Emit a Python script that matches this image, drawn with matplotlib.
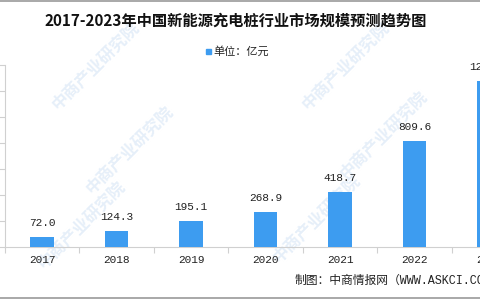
import matplotlib
matplotlib.use("Agg")
import matplotlib.pyplot as plt
import numpy as np

plt.rcParams['font.family'] = ['Noto Sans CJK SC', 'DejaVu Sans']

years = ["2017", "2018", "2019", "2020", "2021", "2022", "2023"]
values = [72.0, 124.3, 195.1, 268.9, 418.7, 809.6, 1272.0]
value_labels = ["72.0", "124.3", "195.1", "268.9", "418.7", "809.6", "1272.0"]

title = "2017-2023年中国新能源充电桩行业市场规模预测趋势图"
legend_text = "单位：亿元"
footer = "制图：中商情报网（WWW.ASKCI.COM）"

bar_color = "#3d9cf0"
mono = ["Liberation Mono", "Noto Sans CJK SC", "DejaVu Sans Mono"]

fig = plt.figure(figsize=(4.8, 3.0), dpi=100)
fig.patch.set_facecolor("white")

# watermark (faint)
wm_color = "#e6eff9"
for (x, y) in [(0.20, 0.78), (0.27, 0.50), (0.17, 0.25), (0.72, 0.78), (0.80, 0.55), (0.66, 0.27)]:
    fig.text(x, y, "中商产业研究院", rotation=45, fontsize=12, color=wm_color,
             ha="center", va="center", fontweight="bold", zorder=0)

ax = fig.add_axes([4.75/480, 1 - 246.7/300, 7*74.5/480, (246.7-64.7)/300])
ax.set_zorder(2)
ax.set_facecolor("none")
x = np.arange(len(years))
ax.bar(x, values, width=0.31, color=bar_color, zorder=3)
ax.set_xlim(-0.5, len(years) - 0.5)
ax.set_ylim(0, 1400)

for xi, v, lab in zip(x, values, value_labels):
    ax.annotate(lab, (xi, v), xytext=(0, 6.5), textcoords="offset points",
                ha="center", va="bottom", fontsize=8, color="#222222",
                family=mono)

ax.set_xticks(x)
ax.set_xticklabels(years, fontsize=8, color="#222222", family=mono)
ax.set_xticks(np.arange(-0.5, len(years), 1), minor=True)
ax.tick_params(axis="x", which="major", length=0, pad=6)
ax.tick_params(axis="x", which="minor", length=4, color="#d0d0d0", width=0.8)
ax.set_yticks(np.arange(0, 1401, 200))
ax.set_yticklabels([])
ax.tick_params(axis="y", length=4, color="#d0d0d0", width=0.8)

for s in ["top", "right"]:
    ax.spines[s].set_visible(False)
ax.spines["left"].set_color("#d0d0d0")
ax.spines["bottom"].set_color("#d0d0d0")
ax.spines["left"].set_linewidth(0.8)
ax.spines["bottom"].set_linewidth(0.8)

fig.text(0.49, 1 - 21/300, title, ha="center", va="center", fontsize=11,
         fontweight="bold", color="#111111")
fig.patches.append(plt.Rectangle((206/480, 1 - 54/300), 5/480, 5/300,
                                 transform=fig.transFigure, color=bar_color))
fig.text(213/480, 1 - 51/300, legend_text, ha="left", va="center", fontsize=8,
         color="#222222")
fig.text(295/480, 1 - 281/300, footer, ha="left", va="center", fontsize=8.5,
         color="#222222", family=mono)

# frame lines top & bottom
fig.add_artist(plt.Line2D([0, 1], [0.997, 0.997], transform=fig.transFigure,
                          color="#999999", lw=1.2))
fig.add_artist(plt.Line2D([0, 1], [0.008, 0.008], transform=fig.transFigure,
                          color="#999999", lw=1.2))

fig.savefig("out.png", dpi=100)
